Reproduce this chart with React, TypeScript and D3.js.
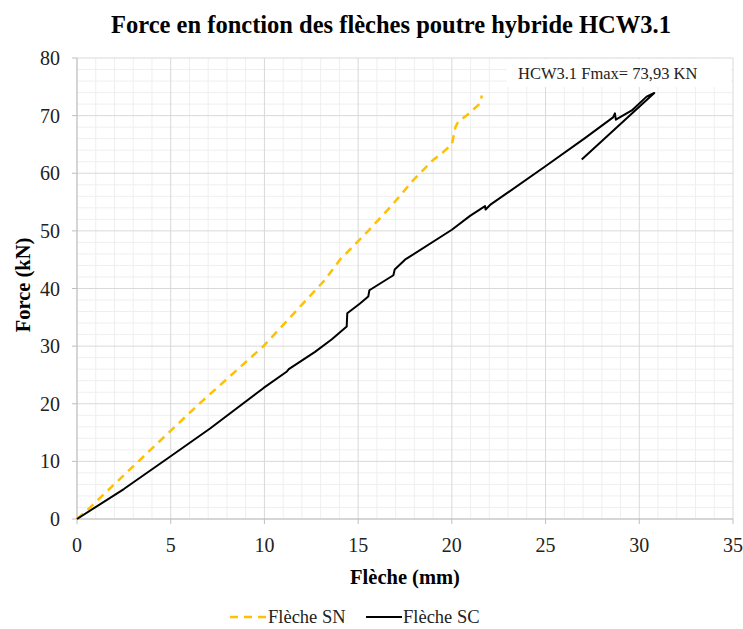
import React from "react";
import * as d3 from "d3";

const snX = [0, 0.5, 2.5, 4.96, 6.56, 9.95, 13.23, 14.03, 15.54, 16.79, 17.94, 19.0, 19.37, 20.0, 20.2, 20.35, 20.78, 21.5, 21.6];
const snF = [0, 1.4, 7.6, 15.2, 20.1, 30.0, 41.5, 45.0, 50.0, 54.4, 58.8, 62.3, 63.2, 65.0, 68.1, 69.0, 70.0, 72.1, 73.5];

const scX = [0, 2.5, 4.96, 7.1, 9.94, 11.2, 11.3, 12.7, 13.6, 14.39, 14.42, 15.1, 15.54, 15.6, 16.88, 16.95, 17.5, 20.0, 20.97, 21.77, 21.8, 22.04, 25.03, 27.1, 28.6, 28.7, 28.75, 29.6, 30.39, 30.8, 26.93];
const scF = [0, 5.2, 10.8, 15.7, 22.7, 25.6, 26.0, 29.0, 31.2, 33.4, 35.7, 37.4, 38.6, 39.7, 42.3, 43.3, 45.0, 50.2, 52.6, 54.3, 53.7, 54.5, 61.3, 66.1, 69.7, 70.4, 69.3, 70.9, 73.3, 73.93, 62.4];

const xTicks = [0, 5, 10, 15, 20, 25, 30, 35];
const yTicks = [0, 10, 20, 30, 40, 50, 60, 70, 80];

const W = 743, H = 629;
const left = 77, right = 733, top = 58, bottom = 519;

export default function App() {
  const x = d3.scaleLinear().domain([0, 35]).range([left, right]);
  const y = d3.scaleLinear().domain([0, 80]).range([bottom, top]);
  const line = d3.line<[number, number]>().x(d => x(d[0])).y(d => y(d[1]));
  const sn = snX.map((v, i) => [v, snF[i]] as [number, number]);
  const sc = scX.map((v, i) => [v, scF[i]] as [number, number]);
  const minorX = d3.range(0, 36, 1).filter(v => v % 5 !== 0);
  const minorY = d3.range(0, 81, 2).filter(v => v % 10 !== 0);
  const serif = "'Liberation Serif', 'Times New Roman', serif";
  return (
    <svg width={W} height={H} style={{ position: "absolute", left: 0, top: 0 }} fontFamily={serif}>
      <rect width={W} height={H} fill="#fff" />
      <text x={391} y={33} textAnchor="middle" fontWeight="bold" fontSize={24.5} fill="#000">
        Force en fonction des flèches poutre hybride HCW3.1
      </text>
      {minorX.map(v => (
        <line key={"mx" + v} x1={x(v)} x2={x(v)} y1={top} y2={bottom} stroke="#efefef" strokeWidth={1} />
      ))}
      {minorY.map(v => (
        <line key={"my" + v} x1={left} x2={right} y1={y(v)} y2={y(v)} stroke="#efefef" strokeWidth={1} />
      ))}
      {xTicks.map(v => (
        <line key={"gx" + v} x1={x(v)} x2={x(v)} y1={top} y2={bottom} stroke="#d9d9d9" strokeWidth={1} />
      ))}
      {yTicks.map(v => (
        <line key={"gy" + v} x1={left} x2={right} y1={y(v)} y2={y(v)} stroke="#d9d9d9" strokeWidth={1} />
      ))}
      <line x1={left} x2={left} y1={top} y2={bottom} stroke="#bfbfbf" />
      <line x1={left} x2={right} y1={bottom} y2={bottom} stroke="#bfbfbf" />
      {yTicks.map(v => (
        <g key={"ty" + v}>
          <line x1={left - 5} x2={left} y1={y(v)} y2={y(v)} stroke="#bfbfbf" />
          <text x={60} y={y(v) + 7} textAnchor="end" fontSize={20} fill="#222">{v}</text>
        </g>
      ))}
      {xTicks.map(v => (
        <g key={"tx" + v}>
          <line x1={x(v)} x2={x(v)} y1={bottom} y2={bottom + 5} stroke="#bfbfbf" />
          <text x={x(v)} y={552} textAnchor="middle" fontSize={20} fill="#222">{v}</text>
        </g>
      ))}
      <text x={405} y={584} textAnchor="middle" fontWeight="bold" fontSize={20.5} fill="#000">Flèche (mm)</text>
      <text transform="translate(30,285) rotate(-90)" textAnchor="middle" fontWeight="bold" fontSize={20.5} fill="#000">Force (kN)</text>
      <rect x={507} y={59} width={224} height={28} fill="#fff" />
      <text x={518} y={79} fontSize={16.5} fill="#222">HCW3.1 Fmax= 73,93 KN</text>
      <path d={line(sn) || ""} fill="none" stroke="#ffc000" strokeWidth={2.5} strokeDasharray="8,6" />
      <path d={line(sc) || ""} fill="none" stroke="#000" strokeWidth={2} strokeLinejoin="round" />
      <line x1={230} x2={266} y1={617} y2={617} stroke="#ffc000" strokeWidth={2.5} strokeDasharray="8,6" />
      <text x={268} y={623} fontSize={18.5} fill="#222">Flèche SN</text>
      <line x1={366} x2={402} y1={617} y2={617} stroke="#000" strokeWidth={2} />
      <text x={403} y={623} fontSize={18.5} fill="#222">Flèche SC</text>
    </svg>
  );
}
